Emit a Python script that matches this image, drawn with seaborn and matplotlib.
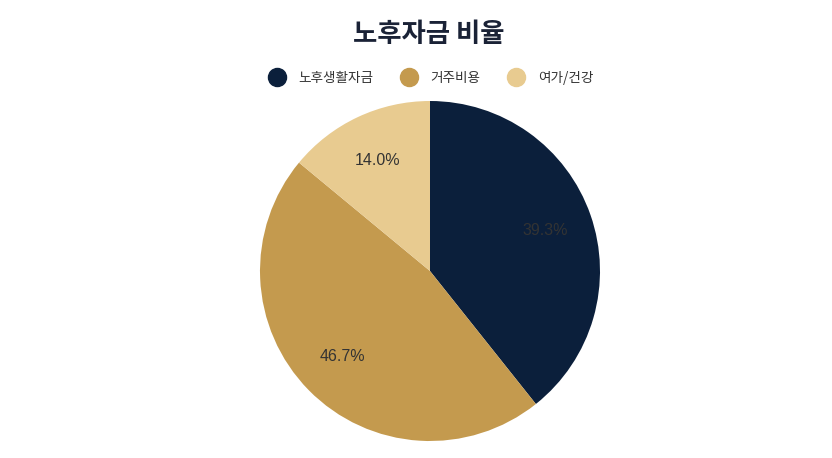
import matplotlib
matplotlib.use('Agg')
import matplotlib.pyplot as plt
from matplotlib.lines import Line2D
import seaborn as sns

# data
categories = ['노후생활자금', '거주비용', '여가/건강']
shares = [39.3, 46.7, 14.0]
colors = ['#0b1f3b', '#c49a4e', '#e8cb90']

sns.set_theme(style='white')
plt.rcParams['font.family'] = ['Noto Sans CJK KR', 'DejaVu Sans']

fig = plt.figure(figsize=(8.32, 4.58), dpi=100)
fig.patch.set_facecolor('white')

# pie: centre (430,271) px, radius 170 px
ax = fig.add_axes([260 / 832, (458 - 441) / 458, 340 / 832, 340 / 458])
wedges, texts, autotexts = ax.pie(
    shares, colors=colors, startangle=90, counterclock=False,
    autopct='%.1f%%', pctdistance=0.72, radius=1.0,
    wedgeprops={'linewidth': 0},
    textprops={'fontsize': 11.5, 'color': '#333333', 'family': ['Liberation Sans', 'DejaVu Sans']})
ax.set_xlim(-1, 1)
ax.set_ylim(-1, 1)
ax.set_aspect('equal')
ax.axis('off')

fig.text(429 / 832, 1 - 35 / 458, '노후자금 비율', ha='center', va='center',
         fontsize=19, fontweight='bold', color='#1a2236')

handles = [Line2D([0], [0], marker='o', linestyle='', markersize=13,
                  markerfacecolor=c, markeredgecolor=c) for c in colors]
fig.legend(handles, categories, loc='center', ncol=3,
           bbox_to_anchor=(428 / 832, 1 - 78 / 458), frameon=False,
           fontsize=9.8, handletextpad=0.6, columnspacing=1.6,
           labelcolor='#333333')

fig.savefig('out.png', dpi=100, facecolor='white')
